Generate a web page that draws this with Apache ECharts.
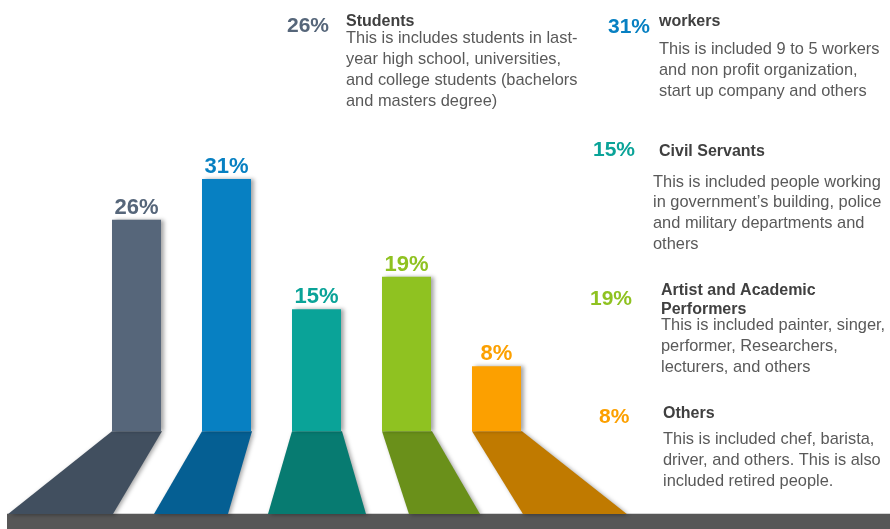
<!DOCTYPE html>
<html>
<head>
<meta charset="utf-8">
<script src="https://cdn.jsdelivr.net/npm/echarts@6/dist/echarts.min.js"></script>
<style>
  html, body { margin: 0; padding: 0; background: #ffffff; }
  #chart { width: 890px; height: 529px; }
</style>
</head>
<body>
<div id="chart"></div>
<script>
// ---- data ----
const categories = ['Students', 'workers', 'Civil Servants', 'Artist and Academic\nPerformers', 'Others'];
const values = [26, 31, 15, 19, 8];
const valueLabels = ['26%', '31%', '15%', '19%', '8%'];
const descriptions = [
  'This is includes students in last-\nyear high school, universities,\nand college students (bachelors\nand masters degree)',
  'This is included 9 to 5 workers\nand non profit organization,\nstart up company and others',
  'This is included people working\nin government\u2019s building, police\nand military departments and\nothers',
  'This is included painter, singer,\nperformer, Researchers,\nlecturers, and others',
  'This is included chef, barista,\ndriver, and others. This is also\nincluded retired people.'
];

// ---- styles ----
const barColors = ['#56667a', '#0780c2', '#0aa398', '#8fc221', '#fca000'];
const floorColors = ['#414f5f', '#055f93', '#077b71', '#6a901a', '#c07a00'];
// floor spread (in units of bar width) of the bottom-left / bottom-right corners
const floorSpread = [[-2.12, -0.98], [-0.98, -0.47], [-0.49, 0.51], [0.55, 1.0], [1.04, 2.16]];
const FLOOR_DEPTH = -10.15;
const FONT = '"Liberation Sans", Arial, Helvetica, sans-serif';
const titleColor = '#404040';
const bodyColor = '#595959';

// text panel layout
const panel = [
  { px: 287, py: 26, tx: 346, ty: 21.2, bx: 346, by: 28.5 },
  { px: 608, py: 27.3, tx: 659, ty: 21.8, bx: 659, by: 39.3 },
  { px: 593, py: 150.6, tx: 659, ty: 151.2, bx: 653, by: 171.6 },
  { px: 590, py: 299.3, tx: 661, ty: 281.1, bx: 661, by: 315.4, multi: true },
  { px: 599, py: 417.3, tx: 663, ty: 413.5, bx: 663, by: 429 }
];

const chart = echarts.init(document.getElementById('chart'), null, { renderer: 'canvas' });

const graphics = [
  { type: 'rect', z: 1, shape: { x: 7, y: 513, width: 883, height: 1 }, style: { fill: '#d4d4d4' }, silent: true },
  { type: 'rect', z: 1, shape: { x: 7, y: 514, width: 883, height: 15 }, style: { fill: '#575757' }, silent: true }
];
panel.forEach((p, i) => {
  graphics.push({
    type: 'text', x: p.px, y: p.py, z: 5,
    style: { text: valueLabels[i], font: 'bold 21px ' + FONT, fill: barColors[i], align: 'left', verticalAlign: 'middle' }
  });
  graphics.push({
    type: 'text', x: p.tx, y: p.ty, z: 5,
    style: p.multi
      ? { text: categories[i], font: 'bold 16px ' + FONT, fill: titleColor, align: 'left', verticalAlign: 'top', lineHeight: 19 }
      : { text: categories[i], font: 'bold 16px ' + FONT, fill: titleColor, align: 'left', verticalAlign: 'middle' }
  });
  graphics.push({
    type: 'text', x: p.bx, y: p.by, z: 5,
    style: { text: descriptions[i], font: '16.4px ' + FONT, fill: bodyColor, align: 'left', verticalAlign: 'top', lineHeight: 20.9 }
  });
});

const option = {
  animation: false,
  backgroundColor: '#ffffff',
  grid: { left: 91.5, right: 348.5, top: 105.7, bottom: 0, containLabel: false },
  xAxis: {
    type: 'category', data: categories, show: false,
    axisLine: { show: false }, axisTick: { show: false }, axisLabel: { show: false }
  },
  yAxis: {
    type: 'value', min: -12, max: 40, show: false, splitLine: { show: false }
  },
  graphic: graphics,
  series: [
    {
      type: 'custom',
      z: 2,
      clip: false,
      data: values.map((v, i) => [i, v]),
      renderItem: function (params, api) {
        const i = params.dataIndex;
        const top = api.coord([i, 0]);
        const bot = api.coord([i, FLOOR_DEPTH]);
        const bw = 49;
        const l = top[0] - bw / 2, r = top[0] + bw / 2;
        const s = floorSpread[i];
        return {
          type: 'polygon',
          shape: { points: [[l, top[1]], [r + 1, top[1]], [r + s[1] * bw, bot[1]], [l + s[0] * bw, bot[1]]] },
          style: {
            fill: floorColors[i],
            shadowBlur: 4, shadowColor: 'rgba(0,0,0,0.35)', shadowOffsetX: 2, shadowOffsetY: 1
          }
        };
      }
    },
    {
      type: 'bar',
      z: 3,
      barWidth: 49,
      data: values.map((v, i) => ({
        value: v,
        itemStyle: { color: barColors[i] },
        label: { color: barColors[i] }
      })),
      itemStyle: { shadowBlur: 4, shadowColor: 'rgba(0,0,0,0.35)', shadowOffsetX: 3, shadowOffsetY: 0 },
      label: {
        show: true, position: 'top', distance: 1,
        formatter: function (p) { return valueLabels[p.dataIndex]; },
        fontFamily: FONT, fontWeight: 'bold', fontSize: 22
      }
    }
  ]
};
chart.setOption(option);
</script>
</body>
</html>
